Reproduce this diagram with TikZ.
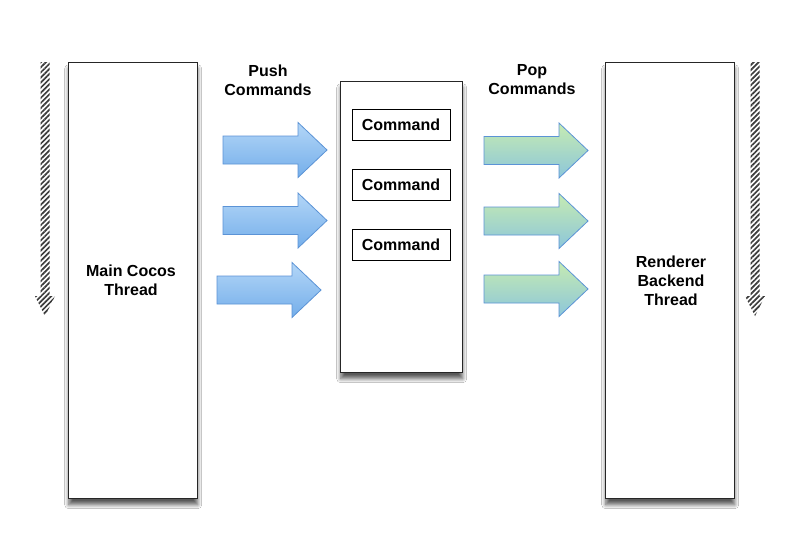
\documentclass[tikz,border=0pt]{standalone}
\usepackage{fontspec}
\setmainfont{Liberation Sans}
\usetikzlibrary{shadows.blur,patterns.meta}
\definecolor{boxline}{HTML}{262626}
\definecolor{blueTop}{HTML}{B3D6F7}
\definecolor{blueBot}{HTML}{74AEEA}
\definecolor{blueEdge}{HTML}{5B93D6}
\definecolor{greenTop}{HTML}{C6EBB2}
\definecolor{greenMid}{HTML}{ACE495}
\definecolor{greenBot}{HTML}{8CC6DA}
\definecolor{stripe}{HTML}{3C3C3C}
\tikzset{
  lbl/.style={font=\fontsize{16}{19}\selectfont\bfseries, align=center, inner sep=0pt},
  boxshadow/.style={blur shadow={shadow xshift=0pt, shadow yshift=-6pt, shadow blur steps=8, shadow blur radius=4pt, shadow opacity=65}},
  thread/.style={draw=boxline, line width=1.4pt, fill=white, minimum width=129pt, minimum height=436pt, anchor=north west, inner sep=0pt, boxshadow},
  queue/.style={draw=boxline, line width=1.4pt, fill=white, minimum width=122pt, minimum height=291pt, anchor=north west, inner sep=0pt, boxshadow},
  cmd/.style={draw=black, line width=0.9pt, fill=white, minimum width=98pt, minimum height=31pt, inner sep=0pt,
    font=\fontsize{16}{19}\selectfont\bfseries},
  arrshadow/.style={blur shadow={shadow xshift=0.5pt, shadow yshift=-3pt, shadow blur steps=5, shadow blur radius=2.5pt, shadow opacity=30}},
  bluearrow/.style={draw=blueEdge, line width=0.8pt, top color=blueTop, bottom color=blueBot, arrshadow},
  greenarrow/.style={draw=blueEdge, line width=0.8pt, top color=greenTop, middle color=greenMid, bottom color=greenBot, arrshadow},
  blockarr/.pic={
    \path[pic actions] (0,-14) -- (75,-14) -- (75,-27.5) -- (104,0) -- (75,27.5) -- (75,14) -- (0,14) -- cycle;
  },
  stripearr/.style={pattern={Lines[angle=45, distance=3.6pt, line width=1.7pt]}, pattern color=stripe},
}
\begin{document}
\begin{tikzpicture}[x=1pt, y=-1pt]
\useasboundingbox (0,0) rectangle (800,546);
\fill[white] (0,0) rectangle (800,546);

% threads and queue
\node[thread] (main) at (68,62) {};
\node[lbl] (mainlbl) at (131,280) {Main Cocos\\Thread};
\node[thread] (render) at (605,62) {};
\node[lbl] (renderlbl) at (671,281) {Renderer\\Backend\\Thread};
\node[queue] (queue) at (340,81) {};
\node[cmd] (c1) at (401,124.5) {Command};
\node[cmd] (c2) at (401,184.5) {Command};
\node[cmd] (c3) at (401,245) {Command};

% labels
\node[lbl] (push) at (268,80) {Push\\Commands};
\node[lbl] (pop) at (532,80) {Pop\\Commands};

% push arrows
\pic[bluearrow] (pa1) at (223,150) {blockarr};
\pic[bluearrow] (pa2) at (223,220.5) {blockarr};
\pic[bluearrow] (pa3) at (217,290) {blockarr};

% pop arrows
\pic[greenarrow] (pb1) at (484,150.5) {blockarr};
\pic[greenarrow] (pb2) at (484,221) {blockarr};
\pic[greenarrow] (pb3) at (484,289) {blockarr};

% time arrows (hatched)
\fill[stripearr] (40.5,62) -- (49.5,62) -- (49.5,296) -- (55,296) -- (45,316) -- (35,296) -- (40.5,296) -- cycle;
\fill[stripearr] (750.5,62) -- (759.5,62) -- (759.5,296) -- (765,296) -- (755,316) -- (745,296) -- (750.5,296) -- cycle;
\end{tikzpicture}
\end{document}
